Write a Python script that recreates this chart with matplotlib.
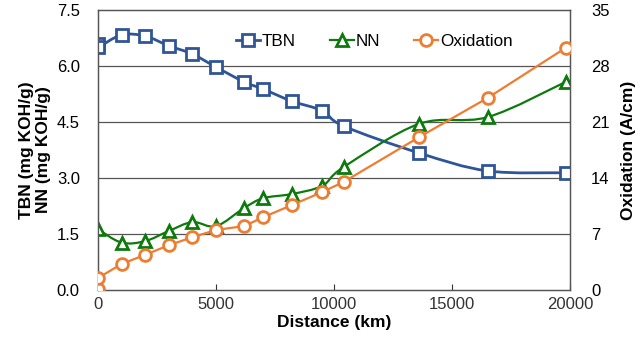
import numpy as np
from matplotlib import pyplot as plt
from matplotlib.path import Path
from matplotlib.patches import PathPatch
from matplotlib.lines import Line2D

plt.rcParams['font.family'] = ['Liberation Sans', 'DejaVu Sans']

# distance (km) for each sample, two readings at 0 km
distance = [0, 0, 1000, 2000, 3000, 4000, 5000, 6200, 7000, 8200, 9500, 10400, 13600, 16500, 19800]
tbn = [6.6, 6.5, 6.83, 6.8, 6.54, 6.32, 5.97, 5.57, 5.38, 5.06, 4.8, 4.39, 3.67, 3.19, 3.14]
nn_dist = [0, 1000, 2000, 3000, 4000, 5000, 6200, 7000, 8200, 9500, 10400, 13600, 16500, 19800]
nn = [1.63, 1.27, 1.31, 1.58, 1.82, 1.71, 2.2, 2.46, 2.57, 2.79, 3.29, 4.45, 4.63, 5.57]
oxidation = [0.1, 1.5, 3.25, 4.4, 5.6, 6.6, 7.5, 8.0, 9.1, 10.6, 12.25, 13.5, 19.1, 24.0, 30.25]

left_ticks = [0.0, 1.5, 3.0, 4.5, 6.0, 7.5]
right_ticks = [0, 7, 14, 21, 28, 35]
x_ticks = [0, 5000, 10000, 15000, 20000]

BLUE = '#2F5597'
GREEN = '#0E7A0E'
ORANGE = '#ED7D31'


def smooth_path(x, y):
    # excel style smoothed line: cubic bezier through the points
    pts = np.column_stack([x, y]).astype(float)
    verts = [pts[0]]
    codes = [Path.MOVETO]
    n = len(pts)
    for i in range(n - 1):
        p0 = pts[max(i - 1, 0)]
        p1 = pts[i]
        p2 = pts[i + 1]
        p3 = pts[min(i + 2, n - 1)]
        c1 = p1 + (p2 - p0) / 6.0
        c2 = p2 - (p3 - p1) / 6.0
        verts += [c1, c2, p2]
        codes += [Path.CURVE4] * 3
    return Path(verts, codes)


fig, ax = plt.subplots(figsize=(6.4, 3.55), dpi=100)
fig.subplots_adjust(left=0.153, right=0.891, bottom=0.183, top=0.972)
ax2 = ax.twinx()

ax.set_xlim(0, 20000)
ax.set_ylim(0, 7.5)
ax2.set_ylim(0, 35)

for yv in left_ticks[1:-1]:
    ax.axhline(yv, color='#555555', lw=0.9, zorder=0)

ax.add_patch(PathPatch(smooth_path(distance, tbn), fill=False, edgecolor=BLUE, lw=2, zorder=3))
ax.add_patch(PathPatch(smooth_path(nn_dist, nn), fill=False, edgecolor=GREEN, lw=1.6, zorder=3))
ax2.plot(distance, oxidation, color=ORANGE, lw=1.6, zorder=3)

ax.plot(distance, tbn, ls='none', marker='s', ms=8.5, mfc='white', mec=BLUE, mew=2, zorder=4)
ax.plot(nn_dist, nn, ls='none', marker='^', ms=8.5, mfc='white', mec=GREEN, mew=2, zorder=4)
ax2.plot(distance, oxidation, ls='none', marker='o', ms=8.5, mfc='white', mec=ORANGE, mew=2, zorder=4)

ax.set_xticks(x_ticks)
ax.set_xticklabels([str(v) for v in x_ticks])
ax.set_yticks(left_ticks)
ax.set_yticklabels([f'{v:.1f}' for v in left_ticks])
ax2.set_yticks(right_ticks)
ax2.set_yticklabels([str(v) for v in right_ticks])

ax.tick_params(axis='x', direction='in', length=4, labelsize=12, colors='#333333', pad=5)
ax.tick_params(axis='y', length=0, labelsize=12, pad=13)
ax2.tick_params(axis='y', length=0, labelsize=12, pad=15)

for a in (ax, ax2):
    for s in a.spines.values():
        s.set_color('#555555')
        s.set_linewidth(0.9)

ax.set_xlabel('Distance (km)', fontsize=12.5, fontweight='bold', labelpad=2)
ax.set_ylabel('TBN (mg KOH/g)\nNN (mg KOH/g)', fontsize=12.5, fontweight='bold', labelpad=4)
ax2.set_ylabel('Oxidation (A/cm)', fontsize=12.5, fontweight='bold', labelpad=8)

handles = [
    Line2D([], [], color=BLUE, lw=2, marker='s', ms=8.5, mfc='white', mec=BLUE, mew=2),
    Line2D([], [], color=GREEN, lw=1.6, marker='^', ms=8.5, mfc='white', mec=GREEN, mew=2),
    Line2D([], [], color=ORANGE, lw=1.6, marker='o', ms=8.5, mfc='white', mec=ORANGE, mew=2),
]
ax2.legend(handles, ['TBN', 'NN', 'Oxidation'], loc='upper center', bbox_to_anchor=(0.585, 0.97),
           ncol=3, frameon=False, fontsize=12.3, handlelength=1.4, handletextpad=0.1,
           columnspacing=2.0)

fig.savefig('out.png', dpi=100)
